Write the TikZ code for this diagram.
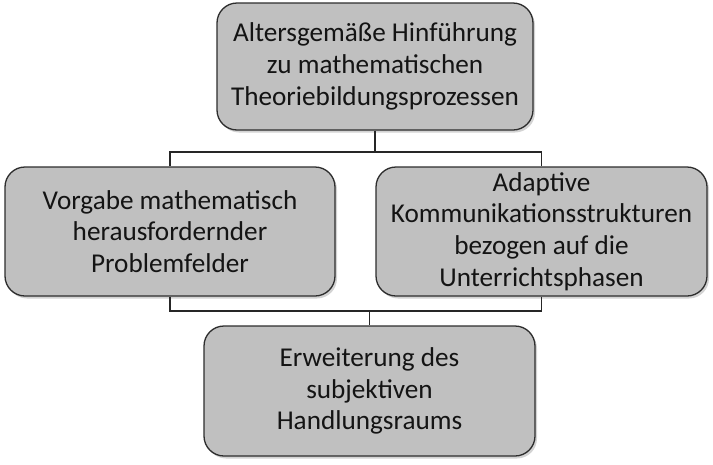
\documentclass[tikz,border=0pt]{standalone}
\usepackage{fontspec}
\setmainfont{Carlito}
\usetikzlibrary{shadows}
\definecolor{boxfill}{RGB}{192,192,192}
\definecolor{boxline}{RGB}{45,45,45}
\tikzset{
  box/.style={draw=boxline, line width=1.3pt, fill=boxfill, rounded corners=20pt,
    align=center, inner sep=0pt, font=\fontsize{27.2}{31.8}\selectfont, text=black!92,
    drop shadow={opacity=0.35, shadow xshift=2pt, shadow yshift=-2.5pt}},
  conn/.style={draw=black!85, line width=1.3pt}
}
\begin{document}
\begin{tikzpicture}[x=1pt,y=-1pt]
\useasboundingbox (0,0) rectangle (713,464);
\node[box, minimum width=316pt, minimum height=127pt] (top) at (375,66.5)
  {Altersgemäße Hinführung\\zu mathematischen\\Theoriebildungsprozessen};
\node[box, minimum width=330pt, minimum height=129pt] (left) at (170,231.5)
  {Vorgabe mathematisch\\herausfordernder\\Problemfelder};
\node[box, minimum width=331pt, minimum height=129pt] (right) at (541.5,231.5)
  {Adaptive\\Kommunikationsstrukturen\\bezogen auf die\\Unterrichtsphasen};
\node[box, minimum width=331pt, minimum height=130pt] (bottom) at (369.5,391)
  {Erweiterung des\\subjektiven\\Handlungsraums};
\coordinate (a) at (375,152);
\coordinate (b) at (369.5,311);
\draw[conn] (top.south) -- (a);
\draw[conn] (left.north) |- (a) -| (right.north);
\draw[conn] (left.south) |- (b) -| (right.south);
\draw[conn] (b) -- (bottom.north);
\end{tikzpicture}
\end{document}
